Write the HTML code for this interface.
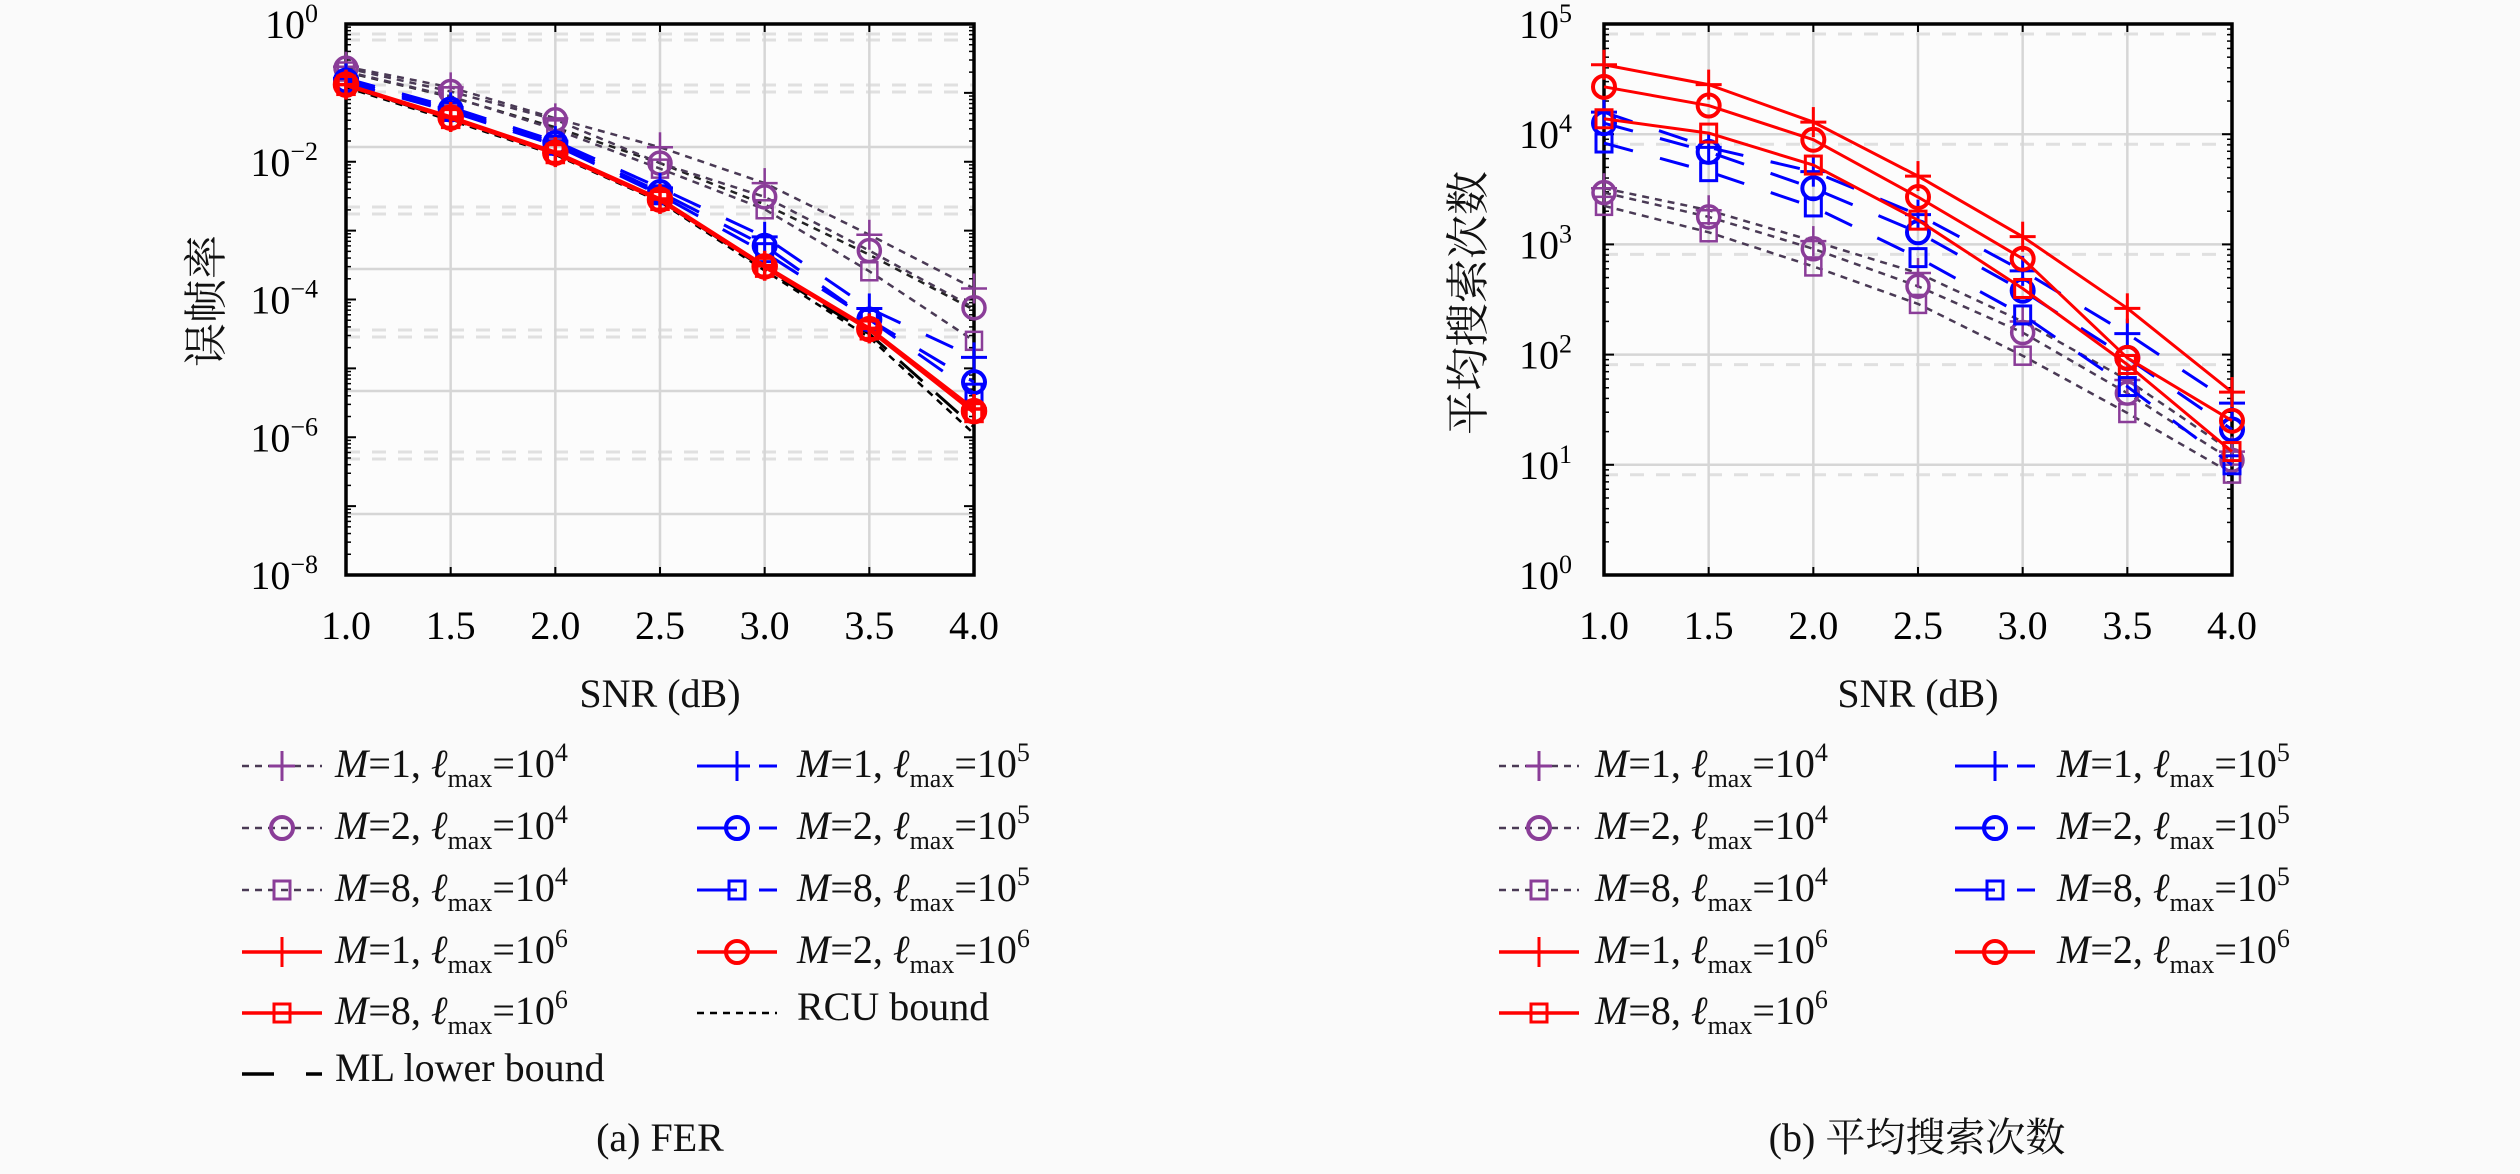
<!DOCTYPE html>
<html><head><meta charset="utf-8">
<style>
html,body{margin:0;padding:0;background:#fafafa;}
body{width:2520px;height:1174px;position:relative;overflow:hidden;font-family:"Liberation Serif","Noto Serif CJK SC",serif;color:#111;}
svg{position:absolute;left:0;top:0;}
.lg{position:absolute;font-size:40px;white-space:nowrap;line-height:1;}
.lg i{font-style:italic;}
.lg sub{font-size:26px;vertical-align:-10px;}
.lg sup{font-size:26px;vertical-align:16px;}
.t{position:absolute;white-space:nowrap;line-height:1;}
</style></head><body>
<svg id="s" width="2520" height="1174" xmlns="http://www.w3.org/2000/svg"></svg>
<div class="t" style="left:0;width:1320px;top:1118px;text-align:center;font-size:40px;">(a) FER</div>
<div class="t" style="left:1917px;top:1118px;transform:translateX(-50%);font-size:40px;">(b) 平均搜索次数</div>
<div class="t" style="left:0;width:1320px;top:674px;text-align:center;font-size:40px;">SNR (dB)</div>
<div class="t" style="left:1604px;width:628px;top:674px;text-align:center;font-size:40px;">SNR (dB)</div>
<div class="t" style="left:202px;top:301px;transform:translate(-50%,-50%) rotate(-90deg);font-size:44px;font-family:'Noto Serif CJK SC',serif;">误帧率</div>
<div class="t" style="left:1464px;top:303px;transform:translate(-50%,-50%) rotate(-90deg);font-size:44px;font-family:'Noto Serif CJK SC',serif;">平均搜索次数</div>
<div id="legs"></div>
<script>
var s=document.getElementById('s'),NS='http://www.w3.org/2000/svg';
function el(t,a,p){var e=document.createElementNS(NS,t);for(var k in a)e.setAttribute(k,a[k]);(p||s).appendChild(e);return e;}
var PUR='#8a3d98',BLU='#0000ff',RED='#ff0000';
function axis(x0,x1,y0,y1,dec,topExp,lblX,step,gridYs,minorYs){
  el('rect',{x:x0,y:y0,width:x1-x0,height:y1-y0,fill:'#fcfcfc'});
  var per=(y1-y0)/dec;
  minorYs.forEach(function(y){el('line',{x1:x0,x2:x1,y1:y,y2:y,stroke:'#e0e0e0','stroke-width':3,'stroke-dasharray':'14,12'});});
  gridYs.forEach(function(y){el('line',{x1:x0,x2:x1,y1:y,y2:y,stroke:'#d6d6d6','stroke-width':2.5});});
  for(var i=0;i<7;i++){var x=x0+(x1-x0)*i/6;
    if(i>0&&i<6)el('line',{x1:x,x2:x,y1:y0,y2:y1,stroke:'#d6d6d6','stroke-width':2.5});
    el('line',{x1:x,x2:x,y1:y0,y2:y0+8,stroke:'#000','stroke-width':2});
    el('line',{x1:x,x2:x,y1:y1,y2:y1-8,stroke:'#000','stroke-width':2});
    var t=el('text',{x:x,y:y1+64,'font-size':40,'text-anchor':'middle','font-family':'Liberation Serif'});t.textContent=(1+i*0.5).toFixed(1);}
  for(var d=0;d<=dec;d++){var y=y0+per*d;
    el('line',{x1:x0,x2:x0+10,y1:y,y2:y,stroke:'#000','stroke-width':2});
    el('line',{x1:x1,x2:x1-10,y1:y,y2:y,stroke:'#000','stroke-width':2});
    if(d<dec)for(var m=2;m<10;m++){var yy=y0+per*d+per*(1-Math.log10(m));
      el('line',{x1:x0,x2:x0+5,y1:yy,y2:yy,stroke:'#000','stroke-width':1.5});
      el('line',{x1:x1,x2:x1-5,y1:yy,y2:yy,stroke:'#000','stroke-width':1.5});}
    if(d%step)continue;
    var e=topExp-d;
    var t=el('text',{x:lblX,y:y+14,'font-size':40,'text-anchor':'end','font-family':'Liberation Serif'});
    var a=el('tspan',{},t);a.textContent='10';var b=el('tspan',{dy:-16,'font-size':26},t);b.textContent=String(e).replace('-','\u2212');}
  el('rect',{x:x0,y:y0,width:x1-x0,height:y1-y0,fill:'none',stroke:'#000','stroke-width':3.5});
}
function marker(g,type,x,y,c,sw){
  if(type=='+'){el('line',{x1:x-13,x2:x+13,y1:y,y2:y,stroke:c,'stroke-width':sw},g);el('line',{x1:x,x2:x,y1:y-15,y2:y+15,stroke:c,'stroke-width':sw},g);}
  if(type=='o')el('circle',{cx:x,cy:y,r:11,fill:'none',stroke:c,'stroke-width':sw+1},g);
  if(type=='s')el('rect',{x:x-8,y:y-9,width:16,height:18,fill:'none',stroke:c,'stroke-width':sw},g);
}
function series(x0,x1,yt,per,topLog,vals,c,dash,type,sw){
  var pts=vals.map(function(v,i){return [x0+(x1-x0)*i/6, yt+(topLog-v)*per];});
  var a={points:pts.map(function(p){return p.join(',')}).join(' '),fill:'none',stroke:c,'stroke-width':sw,'stroke-linejoin':'round'};
  if(dash)a['stroke-dasharray']=dash;
  el('polyline',a);
  if(type)pts.forEach(function(p){marker(s,type,p[0],p[1],c,sw);});
}
var L0=346,L1=974,T=24,B=575;
axis(L0,L1,T,B,8,0,318,2,[147,269,391,514],[34,40,85,92,207,214,330,337,452,459]);
var pl=(B-T)/8;
var DOT='#4a3a55';
series(L0,L1,T,pl,0,[-0.70,-1.06,-1.50,-2.02,-2.62,-3.35,-4.15],'#222','7,6',null,2.5);
var ld=[[-0.62,-0.92,-1.37,-1.79,-2.31,-3.06,-3.84,'+'],[-0.64,-0.98,-1.39,-2.02,-2.51,-3.29,-4.12,'o'],[-0.69,-1.05,-1.53,-2.10,-2.69,-3.59,-4.60,'s']];
ld.forEach(function(r){series(L0,L1,T,pl,0,r.slice(0,7),DOT,'7,6',null,2.5);});
ld.forEach(function(r){r.slice(0,7).forEach(function(v,i){marker(s,r[7],L0+(L1-L0)*i/6,T+(0-v)*pl,PUR,2.5);});});
series(L0,L1,T,pl,0,[-0.90,-1.38,-1.88,-2.56,-3.55,-4.50,-5.85],'#000','30,18',null,3);
series(L0,L1,T,pl,0,[-0.92,-1.40,-1.90,-2.58,-3.58,-4.55,-5.95],'#000','7,6',null,2.5);
series(L0,L1,T,pl,0,[-0.79,-1.21,-1.70,-2.38,-3.09,-4.13,-4.84],BLU,'30,28','+',3);
series(L0,L1,T,pl,0,[-0.82,-1.24,-1.73,-2.44,-3.22,-4.29,-5.20],BLU,'30,28','o',3);
series(L0,L1,T,pl,0,[-0.85,-1.27,-1.76,-2.48,-3.32,-4.29,-5.36],BLU,'30,28','s',3);
series(L0,L1,T,pl,0,[-0.88,-1.35,-1.86,-2.54,-3.51,-4.42,-5.59],RED,null,'+',3.5);
series(L0,L1,T,pl,0,[-0.88,-1.36,-1.87,-2.55,-3.52,-4.43,-5.62],RED,null,'o',3.5);
series(L0,L1,T,pl,0,[-0.89,-1.37,-1.88,-2.56,-3.53,-4.44,-5.64],RED,null,'s',3.5);
var R0=1604,R1=2232;
var pr=(B-T)/5;
axis(R0,R1,T,B,5,5,1572,1,[T+pr,T+2*pr,T+3*pr,T+4*pr],[T+10,T+pr+10,T+2*pr+10,T+3*pr+10,T+4*pr+10]);
var pdat=[[3.51,3.31,3.03,2.74,2.30,1.77,1.12,'+'],[3.47,3.25,2.96,2.62,2.20,1.65,1.04,'o'],[3.35,3.11,2.80,2.46,1.99,1.47,0.92,'s']];
pdat.forEach(function(r){series(R0,R1,T,pr,5,r.slice(0,7),DOT,'7,6',null,2.5);});
pdat.forEach(function(r){r.slice(0,7).forEach(function(v,i){marker(s,r[7],R0+(R1-R0)*i/6,T+(5-v)*pr,PUR,2.5);});});
series(R0,R1,T,pr,5,[4.20,3.88,3.66,3.27,2.76,2.19,1.56],BLU,'30,28','+',3);
series(R0,R1,T,pr,5,[4.10,3.84,3.51,3.11,2.58,1.97,1.32],BLU,'30,28','o',3);
series(R0,R1,T,pr,5,[3.92,3.66,3.34,2.88,2.36,1.71,1.00],BLU,'30,28','s',3);
series(R0,R1,T,pr,5,[4.63,4.45,4.11,3.62,3.07,2.42,1.66],RED,null,'+',3);
series(R0,R1,T,pr,5,[4.43,4.26,3.95,3.43,2.87,1.97,1.40],RED,null,'o',3);
series(R0,R1,T,pr,5,[4.14,4.01,3.72,3.22,2.60,1.91,1.12],RED,null,'s',3);
var legs=document.getElementById('legs');
function lab(M,e){return '<i>M</i>='+M+', <i>ℓ</i><sub>max</sub>=10<sup>'+e+'</sup>';}
function legItem(sx,tx,y,c,dash,type,html,sw){
  var w=80;
  if(dash=='dot'){el('line',{x1:sx,x2:sx+w,y1:y,y2:y,stroke:DOT,'stroke-width':2.5,'stroke-dasharray':'7,6'});}
  else if(dash=='blue'){el('line',{x1:sx,x2:sx+40,y1:y,y2:y,stroke:c,'stroke-width':3});el('line',{x1:sx+62,x2:sx+w,y1:y,y2:y,stroke:c,'stroke-width':3});}
  else if(dash=='ml'){el('line',{x1:sx,x2:sx+32,y1:y,y2:y,stroke:'#000','stroke-width':3.5});el('line',{x1:sx+64,x2:sx+w,y1:y,y2:y,stroke:'#000','stroke-width':3.5});}
  else if(dash=='rcu'){el('line',{x1:sx,x2:sx+w,y1:y,y2:y,stroke:'#000','stroke-width':2.5,'stroke-dasharray':'7,6'});}
  else el('line',{x1:sx,x2:sx+w,y1:y,y2:y,stroke:c,'stroke-width':sw||3.5});
  if(type)marker(s,type,sx+40,y,c,3);
  var d=document.createElement('div');d.className='lg';d.style.left=tx+'px';d.style.top=(y-26)+'px';d.innerHTML=html;legs.appendChild(d);
}
var rows=[766,828,890,952,1013,1074];
legItem(242,335,rows[0],PUR,'dot','+',lab(1,4));
legItem(242,335,rows[1],PUR,'dot','o',lab(2,4));
legItem(242,335,rows[2],PUR,'dot','s',lab(8,4));
legItem(242,335,rows[3],RED,null,'+',lab(1,6));
legItem(242,335,rows[4],RED,null,'s',lab(8,6));
legItem(242,335,rows[5],'#000','ml',null,'ML lower bound');
legItem(697,797,rows[0],BLU,'blue','+',lab(1,5));
legItem(697,797,rows[1],BLU,'blue','o',lab(2,5));
legItem(697,797,rows[2],BLU,'blue','s',lab(8,5));
legItem(697,797,rows[3],RED,null,'o',lab(2,6));
legItem(697,797,rows[4],'#000','rcu',null,'RCU bound');
legItem(1499,1595,rows[0],PUR,'dot','+',lab(1,4));
legItem(1499,1595,rows[1],PUR,'dot','o',lab(2,4));
legItem(1499,1595,rows[2],PUR,'dot','s',lab(8,4));
legItem(1499,1595,rows[3],RED,null,'+',lab(1,6));
legItem(1499,1595,rows[4],RED,null,'s',lab(8,6));
legItem(1955,2057,rows[0],BLU,'blue','+',lab(1,5));
legItem(1955,2057,rows[1],BLU,'blue','o',lab(2,5));
legItem(1955,2057,rows[2],BLU,'blue','s',lab(8,5));
legItem(1955,2057,rows[3],RED,null,'o',lab(2,6));
</script>
</body></html>
